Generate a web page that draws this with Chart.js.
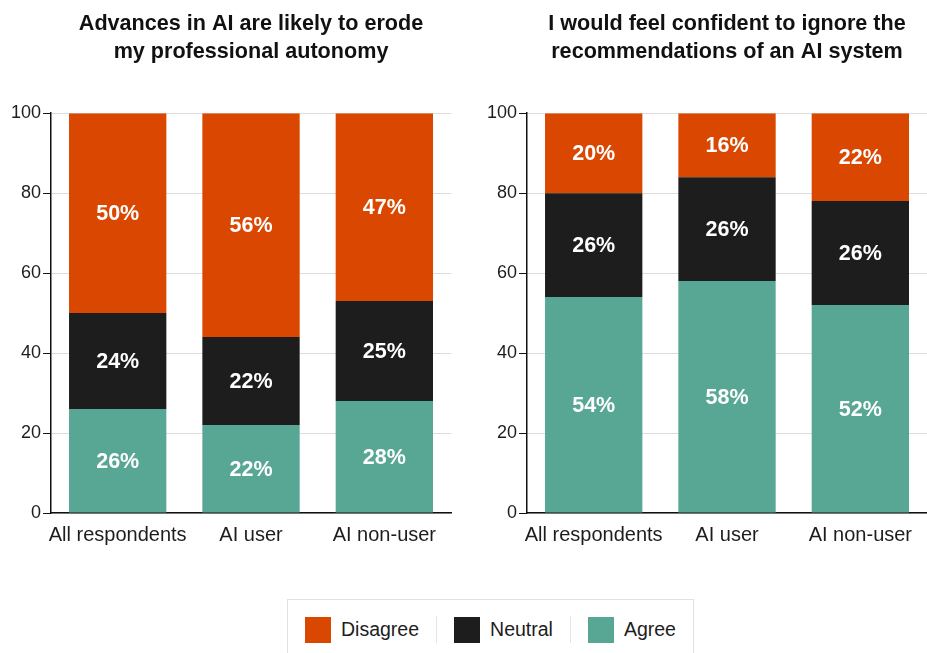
<!DOCTYPE html>
<html>
<head>
<meta charset="utf-8">
<script src="https://cdn.jsdelivr.net/npm/chart.js@4"></script>
<style>
  body { margin: 0; background: #fff; font-family: "Liberation Sans", Arial, sans-serif; }
  #wrap { width: 927px; height: 653px; position: relative; }
  #charts { display: flex; height: 557px; }
  .box { position: relative; height: 557px; }
  #legend {
    position: absolute; left: 287px; top: 599px; height: 60px;
    border: 1px solid #e2e2e2; display: flex; align-items: flex-start; box-sizing: border-box;
    padding-top: 16px;
  }
  .item { display: flex; align-items: center; font-size: 19.5px; color: #1d1d1d; padding: 0 17px; height: 27px; }
  .item + .item { border-left: 1px solid #e4e4e4; }
  .sw { width: 26px; height: 26px; margin-right: 10px; }
</style>
</head>
<body>
<div id="wrap">
  <div id="charts">
    <div class="box" style="width:463px"><canvas id="chart1"></canvas></div>
    <div class="box" style="width:464px"><canvas id="chart2"></canvas></div>
  </div>
  <div id="legend"></div>
</div>
<script>
const categories = ['All respondents', 'AI user', 'AI non-user'];
const seriesNames = ['Agree', 'Neutral', 'Disagree'];
const colors = ['#58a694', '#1d1d1d', '#d94700'];
const yTicks = [0, 20, 40, 60, 80, 100];

const title1 = ['Advances in AI are likely to erode', 'my professional autonomy'];
const agree1 = [26, 22, 28];
const neutral1 = [24, 22, 25];
const disagree1 = [50, 56, 47];

const title2 = ['I would feel confident to ignore the', 'recommendations of an AI system'];
const agree2 = [54, 58, 52];
const neutral2 = [26, 26, 26];
const disagree2 = [20, 16, 22];

const FONT = '"Liberation Sans", Arial, sans-serif';

// white percentage labels in the middle of each segment
const barLabels = {
    id: 'barLabels',
    afterDatasetsDraw(chart) {
        const ctx = chart.ctx;
        ctx.save();
        ctx.fillStyle = '#fff';
        ctx.font = 'bold 21.5px ' + FONT;
        ctx.textAlign = 'center';
        ctx.textBaseline = 'middle';
        chart.data.datasets.forEach((ds, i) => {
            chart.getDatasetMeta(i).data.forEach((bar, j) => {
                const p = bar.getProps(['x', 'y', 'base'], true);
                ctx.fillText(ds.data[j] + '%', p.x, (p.y + p.base) / 2 + 1);
            });
        });
        ctx.restore();
    }
};

function makeChart(id, title, agree, neutral, disagree, pad) {
    const ctx = document.getElementById(id).getContext('2d');
    const values = [agree, neutral, disagree];
    return new Chart(ctx, {
        type: 'bar',
        data: {
            labels: categories,
            datasets: seriesNames.map((name, i) => ({
                label: name,
                data: values[i],
                backgroundColor: colors[i],
                borderWidth: 0,
                barPercentage: 0.73,
                categoryPercentage: 1
            }))
        },
        options: {
            responsive: true,
            maintainAspectRatio: false,
            animation: false,
            layout: { padding: pad },
            plugins: {
                legend: { display: false },
                tooltip: { enabled: false },
                title: {
                    display: true,
                    fullSize: false,
                    text: title,
                    color: '#111',
                    font: { family: FONT, size: 21.6, weight: 'bold', lineHeight: 1.3 },
                    padding: { top: 10, bottom: 47 }
                }
            },
            scales: {
                x: {
                    stacked: true,
                    grid: { display: false, drawTicks: false },
                    border: { color: '#111', width: 1.5 },
                    ticks: {
                        color: '#1d1d1d', font: { family: FONT, size: 20 }, padding: 10,
                        maxRotation: 0, minRotation: 0, autoSkip: false
                    }
                },
                y: {
                    stacked: true,
                    min: 0,
                    max: 100,
                    afterBuildTicks: (axis) => { axis.ticks = yTicks.map(v => ({ value: v })); },
                    grid: { color: '#dcdcdc', tickColor: '#111', tickLength: 8, lineWidth: 1 },
                    border: { color: '#111', width: 1.5 },
                    ticks: { color: '#1d1d1d', font: { family: FONT, size: 18 }, padding: 2 }
                }
            }
        },
        plugins: [barLabels]
    });
}

makeChart('chart1', title1, agree1, neutral1, disagree1, { left: 9, right: 12, top: 0, bottom: 0 });
makeChart('chart2', title2, agree2, neutral2, disagree2, { left: 22, right: 0, top: 0, bottom: 0 });

// legend in reading order Disagree, Neutral, Agree
const legend = document.getElementById('legend');
[2, 1, 0].forEach(i => {
    const item = document.createElement('div');
    item.className = 'item';
    item.innerHTML = '<span class="sw" style="background:' + colors[i] + '"></span>' + seriesNames[i];
    legend.appendChild(item);
});
</script>
</body>
</html>
